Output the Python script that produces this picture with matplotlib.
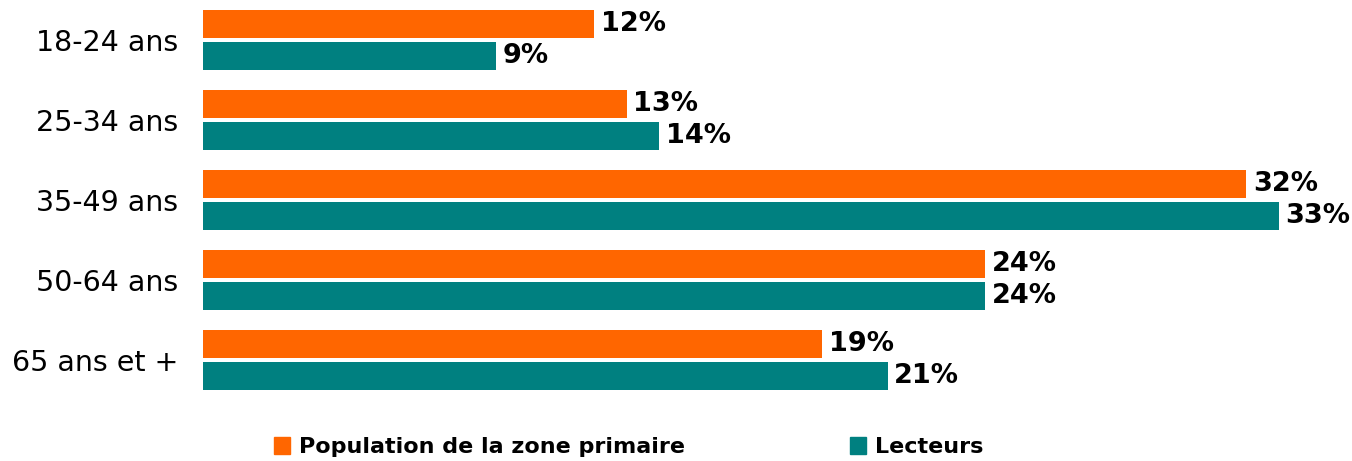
import numpy as np
import matplotlib.pyplot as plt
from matplotlib.patches import Patch

# data
age_groups = ["18-24 ans", "25-34 ans", "35-49 ans", "50-64 ans", "65 ans et +"]
population = [12, 13, 32, 24, 19]
lecteurs = [9, 14, 33, 24, 21]
series_names = ["Population de la zone primaire", "Lecteurs"]

ORANGE = "#FF6600"
TEAL = "#008080"

fig = plt.figure(figsize=(13.52, 4.61), dpi=100)
ax = fig.add_axes([203 / 1352, 61 / 461, (1340 - 203) / 1352, 400 / 461])

y = np.arange(len(age_groups))
h = 0.35
bars_pop = ax.barh(y - 0.2, population, height=h, color=ORANGE)
bars_lec = ax.barh(y + 0.2, lecteurs, height=h, color=TEAL)

# value labels
for bars, vals in ((bars_pop, population), (bars_lec, lecteurs)):
    for b, v in zip(bars, vals):
        ax.text(b.get_width() + 0.2, b.get_y() + b.get_height() / 2, f"{v}%",
                va="center", ha="left", fontsize=19.5, fontweight="bold", color="black")

ax.set_xlim(0, (1340 - 203) / 32.6)
ax.set_ylim(4.5, -0.5)
ax.set_yticks(y)
ax.set_yticklabels(age_groups, fontsize=20.5)
ax.tick_params(axis="y", length=0, pad=18)
ax.set_xticks([])
for s in ax.spines.values():
    s.set_visible(False)

handles = [Patch(color=ORANGE), Patch(color=TEAL)]
leg = fig.legend(handles, series_names, loc="center", bbox_to_anchor=(0.465, 0.03),
                 ncol=2, frameon=False, handlelength=0.75, handleheight=0.75,
                 handletextpad=0.4, columnspacing=7.4,
                 prop={"size": 16, "weight": "bold"})

fig.savefig("out.png", dpi=100)
